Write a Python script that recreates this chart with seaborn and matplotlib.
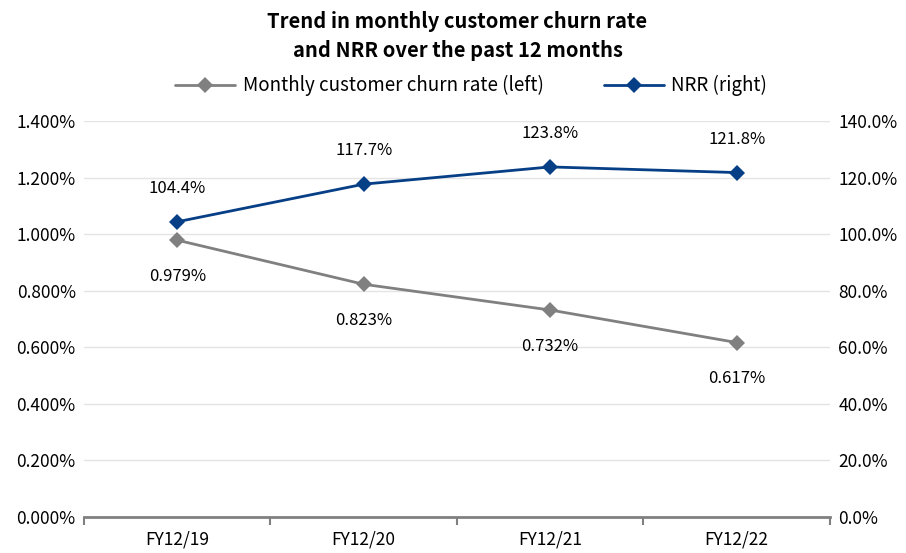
import matplotlib
matplotlib.use("Agg")
import matplotlib.pyplot as plt
import seaborn as sns
import pandas as pd
from matplotlib.ticker import FuncFormatter

categories = ["FY12/19", "FY12/20", "FY12/21", "FY12/22"]
churn = [0.979, 0.823, 0.732, 0.617]
nrr = [104.4, 117.7, 123.8, 121.8]

sns.set_theme(style="white")
plt.rcParams['font.family'] = ['Noto Sans CJK JP', 'DejaVu Sans']
plt.rcParams['text.color'] = 'black'

df = pd.DataFrame({"cat": categories, "churn": churn, "nrr": nrr})
df["x"] = range(len(categories))

fig = plt.figure(figsize=(9.06, 5.53), dpi=100)
ax = fig.add_axes([0.0927, 0.0651, 0.8233, 0.7159])
ax2 = ax.twinx()

gray = "#808080"
blue = "#073f86"

sns.lineplot(data=df, x="x", y="churn", ax=ax, color=gray, marker="D", markersize=8,
             linewidth=2, markeredgewidth=0, label="Monthly customer churn rate (left)", legend=False)
sns.lineplot(data=df, x="x", y="nrr", ax=ax2, color=blue, marker="D", markersize=8,
             linewidth=2, markeredgewidth=0, label="NRR (right)", legend=False)

ax.set_xlim(-0.5, 3.5)
ax.set_ylim(0, 1.4)
ax2.set_ylim(0, 140)
ax.set_yticks([i * 0.2 for i in range(8)])
ax2.set_yticks([i * 20 for i in range(8)])
ax.yaxis.set_major_formatter(FuncFormatter(lambda v, p: f"{v:.3f}%"))
ax2.yaxis.set_major_formatter(FuncFormatter(lambda v, p: f"{v:.1f}%"))
ax.set_xticks(range(len(categories)))
ax.set_xticklabels(categories)
ax.set_xlabel("")
ax.set_ylabel("")
ax2.set_ylabel("")

ax.grid(axis="y", color="#e4e4e4", linewidth=1)
ax.set_axisbelow(True)
for a in (ax, ax2):
    for s in ("top", "left", "right", "bottom"):
        a.spines[s].set_visible(False)
ax.spines["bottom"].set_visible(True)
ax.spines["bottom"].set_color(gray)
ax.spines["bottom"].set_linewidth(2)

# tick marks at category boundaries
ax.set_xticks([-0.5, 0.5, 1.5, 2.5, 3.5], minor=True)
ax.tick_params(axis="x", which="minor", bottom=True, length=6, width=1.5, color=gray, direction="out")
ax.tick_params(axis="x", which="major", bottom=False, length=0, labelsize=12.5, pad=10, colors="black")
ax.tick_params(axis="y", length=0, labelsize=12.5, colors="black", pad=6)
ax2.tick_params(axis="y", length=0, labelsize=12.5, colors="black", pad=6)

for i, v in enumerate(churn):
    ax.annotate(f"{v:.3f}%", (i, v), xytext=(0, -26), textcoords="offset points",
                ha="center", va="center", fontsize=12, color="black")
for i, v in enumerate(nrr):
    ax2.annotate(f"{v:.1f}%", (i, v), xytext=(0, 24), textcoords="offset points",
                 ha="center", va="center", fontsize=12, color="black")

h1, l1 = ax.get_legend_handles_labels()
h2, l2 = ax2.get_legend_handles_labels()
leg = fig.legend(h1 + h2, l1 + l2, loc="center", bbox_to_anchor=(0.52, 0.845), ncol=2,
                 frameon=False, fontsize=13.5, handlelength=3.2, columnspacing=3.2, handletextpad=0.4)
for t in leg.get_texts():
    t.set_color("black")

fig.text(0.505, 0.935, "Trend in monthly customer churn rate\nand NRR over the past 12 months",
         ha="center", va="center", fontsize=14.5, fontweight="bold", linespacing=1.45, color="black")

fig.savefig("out.png", dpi=100)
